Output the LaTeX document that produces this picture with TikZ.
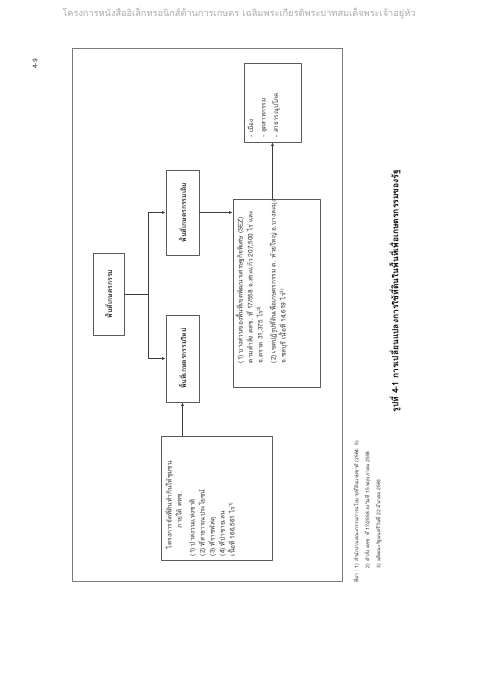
\documentclass[tikz,border=0pt]{standalone}
\usepackage{fontspec}
\setmainfont[Script=Thai]{Loma}
\usetikzlibrary{arrows.meta}
\definecolor{boxc}{HTML}{5A5A5A}
\definecolor{linec}{HTML}{3C3C3C}
\definecolor{framec}{HTML}{7A7A7A}
\definecolor{headc}{HTML}{A8A8A8}
\definecolor{txtc}{HTML}{303030}

\begin{document}
\begin{tikzpicture}[x=1pt,y=-1pt,line join=round,
  box/.style={draw=boxc,line width=0.7pt,rotate=90,inner sep=0pt},
  hbox/.style={box,text=txtc,font=\bfseries\fontsize{6.8}{8}\selectfont},
  txt/.style={rotate=90,anchor=north west,inner sep=0pt,align=left,text=txtc,font=\fontsize{6.5}{10}\selectfont},
  ln/.style={draw=linec,line width=0.8pt},
  arr/.style={ln,-{Latex[length=3.5pt,width=3pt]}}]
  \useasboundingbox (0,0) rectangle (480,679);
  % page header and number
  \node[text=headc,font=\fontsize{9.2}{11}\selectfont] (hdr) at (239,13) {โครงการหนังสืออิเล็กทรอนิกส์ด้านการเกษตร เฉลิมพระเกียรติพระบาทสมเด็จพระเจ้าอยู่หัว};
  \node[rotate=90,text=txtc,font=\fontsize{6.5}{7}\selectfont] (pno) at (35,64) {4-9};
  % frame
  \draw[draw=framec,line width=0.9pt] (72.5,48) rectangle (342,581);
  % boxes (page turned: local width runs up the sheet)
  \node[hbox,minimum width=82pt,minimum height=31pt] (root) at (108.5,294) {พื้นที่เกษตรกรรม};
  \node[hbox,minimum width=85pt,minimum height=33pt] (old) at (182.5,212.5) {พื้นที่เกษตรกรรมเดิม};
  \node[hbox,minimum width=87pt,minimum height=33pt] (new) at (182.5,358.5) {พื้นที่เกษตรกรรมใหม่};
  \node[box,minimum width=188pt,minimum height=87pt] (sez) at (276.5,293) {};
  \node[box,minimum width=79pt,minimum height=57pt] (city) at (272.5,102.5) {};
  \node[box,minimum width=124pt,minimum height=111pt] (proj) at (216.5,498) {};
  % box texts
  \node[txt] (sezt) at ([shift={(3,-24)}]sez.north west) {(1) บางส่วนของพื้นที่เขตพัฒนาเศรษฐกิจพิเศษ (SEZ)\\
    ตามคำสั่ง คสช. ที่ 17/558 จ.สระแก้ว 207,500 ไร่ และ\\
    จ.ตราด 31,375 ไร่\textsuperscript{2)}\\[3pt]
    (2) เขตปฏิรูปที่ดินเพื่อเกษตรกรรม ต. ห้วยใหญ่ อ.บางละมุง\\
    จ.ชลบุรี เนื้อที่ 14,619 ไร่\textsuperscript{3)}};
  \node[txt,font=\fontsize{6.3}{12.5}\selectfont] (cityt) at ([shift={(4,-5)}]city.north west) {- เมือง\\- อุตสาหกรรม\\- สาธารณูปโภค};
  \node[txt] (projt) at ([shift={(4,-4)}]proj.north west) {\hspace*{7pt}โครงการจัดที่ดินทำกินให้ชุมชน\\
    \hspace*{28pt}ภายใต้ คทช.\\[3pt]
    (1) ป่าสงวนแห่งชาติ\\
    (2) ที่สาธารณประโยชน์\\
    (3) ที่ราชพัสดุ\\
    (4) ที่ป่าชายเลน\\
    เนื้อที่ 166,561 ไร่\textsuperscript{1)}};
  % connectors
  \coordinate (jn) at (148,294);
  \draw[ln] (root.south) -- (jn);
  \draw[arr] (jn) |- (old.north);
  \draw[arr] (jn) |- (new.north);
  \draw[arr] (old.south) -- (old.south -| sez.north);
  \draw[arr] (sez.east -| city.west) -- (city.west);
  \draw[arr] (proj.east -| new.west) -- (new.west);
  % sources and caption
  \node[txt,font=\fontsize{5}{11}\selectfont] (src) at (353,583) {ที่มา : 1) สำนักงานคณะกรรมการนโยบายที่ดินแห่งชาติ (2564: 5)\\
    \phantom{ที่มา : }2) คำสั่ง คสช. ที่ 17/2558 ลงวันที่ 15 พฤษภาคม 2558\\
    \phantom{ที่มา : }3) มติคณะรัฐมนตรีวันที่ 22 มีนาคม 2563};
  \node[rotate=90,text=black,font=\bfseries\fontsize{8.5}{10}\selectfont] (cap) at (395,291) {รูปที่ 4-1 การเปลี่ยนแปลงการใช้ที่ดินในพื้นที่เพื่อเกษตรกรรมของรัฐ};
\end{tikzpicture}
\end{document}
